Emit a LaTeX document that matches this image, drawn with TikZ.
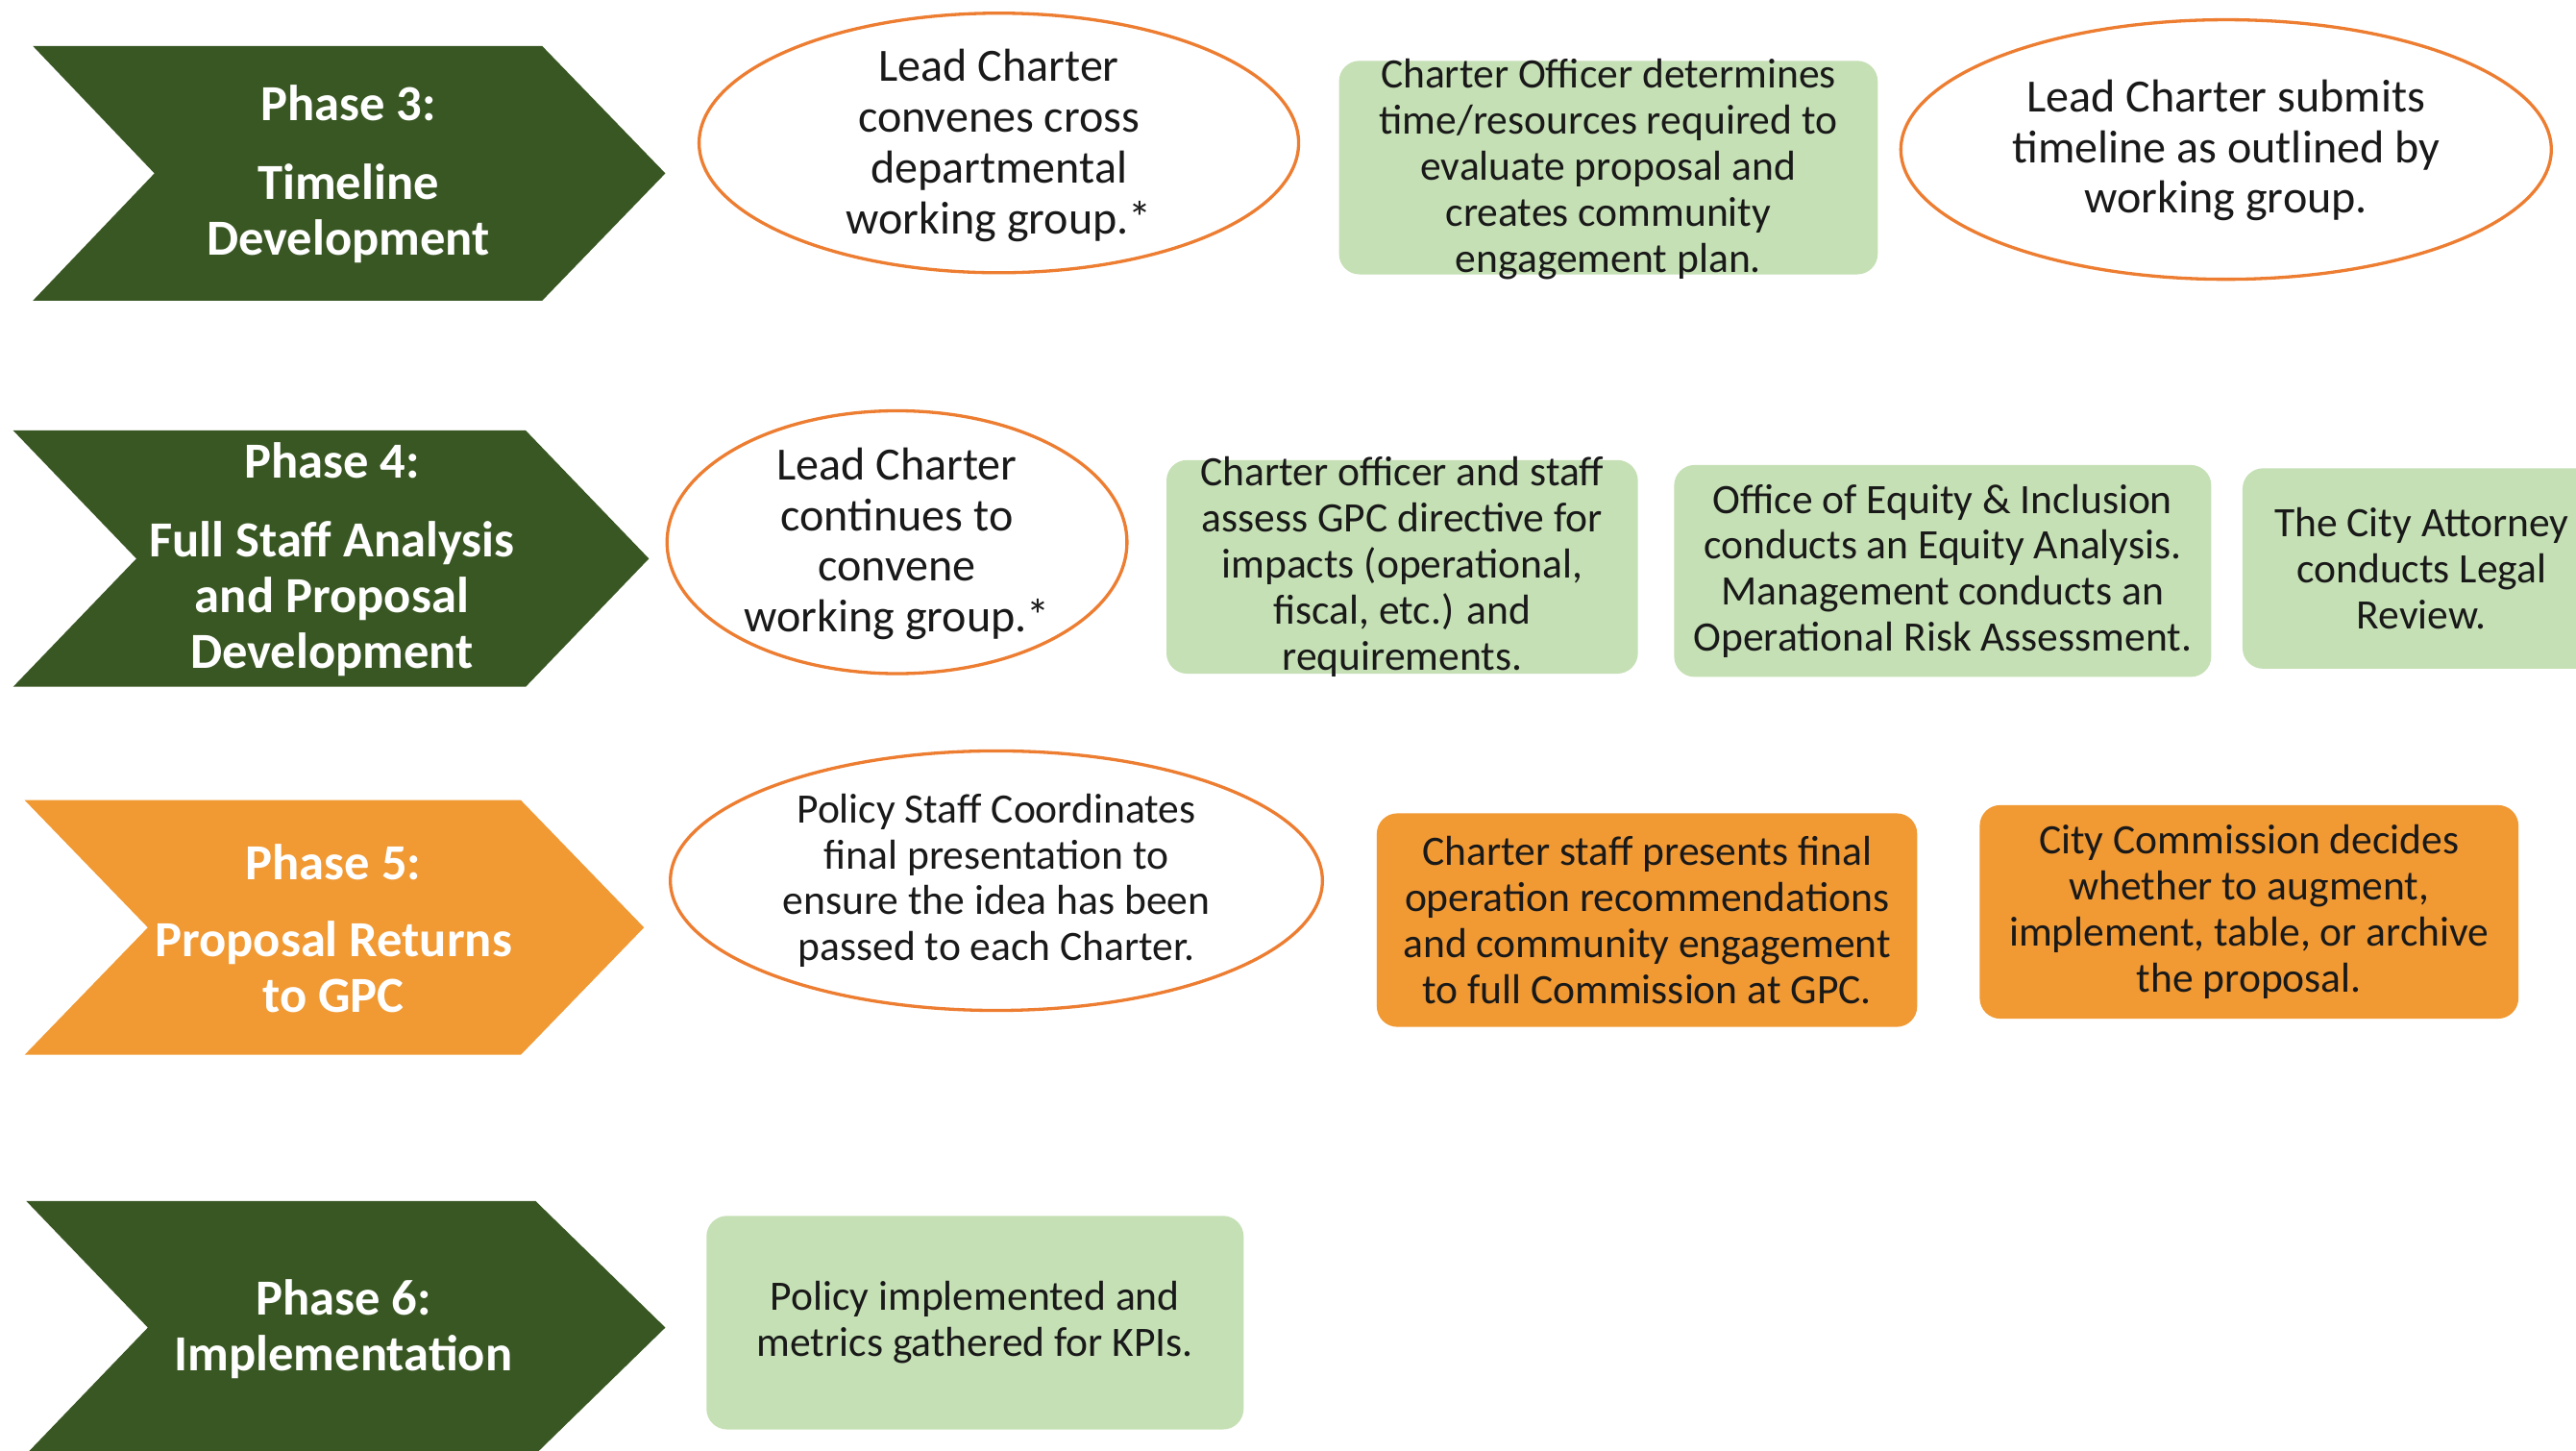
\documentclass[tikz,border=0pt]{standalone}
\usepackage{fontspec}
\setmainfont{Carlito}
\usetikzlibrary{shapes.geometric}
\definecolor{phasegreen}{RGB}{57,87,35}
\definecolor{boxgreen}{RGB}{197,224,180}
\definecolor{phaseorange}{RGB}{241,153,51}
\definecolor{ringorange}{RGB}{237,125,49}
\begin{document}
\begin{tikzpicture}[x=0.02cm,y=-0.02cm,
		phasetext/.style={text=white,font=\fontsize{17.5}{19.3}\selectfont\bfseries,align=center},
		ringoval/.style={draw=ringorange,line width=1.1pt,fill=white,ellipse,inner sep=0pt,minimum width=7.92cm,minimum height=3.16cm},
		ovaltext/.style={font=\fontsize{16}{17.6}\selectfont,align=center,text=black!90},
		greenbox/.style={fill=boxgreen,rounded corners=0.25cm,inner sep=0pt,minimum width=6.56cm,minimum height=2.6cm},
		orangebox/.style={greenbox,fill=phaseorange},
		boxtext/.style={font=\fontsize{14.5}{15.9}\selectfont,align=center,text=black!90}]
		\useasboundingbox (0,0) rectangle (1568,883);
		\clip (0,0) rectangle (1568,883);
		\fill[white] (0,0) rectangle (1568,883);
		\fill[phasegreen] (20,28) -- (330,28) -- (405,105.5) -- (330,183) -- (20,183) -- (94,105.5) -- cycle;
		\fill[phasegreen] (8,262) -- (320,262) -- (395,340) -- (320,418) -- (8,418) -- (83,340) -- cycle;
		\fill[phaseorange] (15,487) -- (317,487) -- (392,564.5) -- (317,642) -- (15,642) -- (90,564.5) -- cycle;
		\fill[phasegreen] (16,731) -- (326,731) -- (405,808) -- (326,885) -- (16,885) -- (90,808) -- cycle;
		\node[phasetext] (p3) at (212,106) {Phase 3:\\[0.28cm]Timeline\\Development};
		\node[phasetext] (p4) at (202,340.5) {Phase 4:\\[0.28cm]Full Staff Analysis\\and Proposal\\Development};
		\node[phasetext] (p5) at (203,565) {Phase 5:\\[0.26cm]Proposal Returns\\to GPC};
		\node[phasetext] (p6) at (209,809) {Phase 6:\\Implementation};
		\node[ringoval,minimum width=7.3cm] (e1) at (608,87) {};
		\node[ovaltext] (e1t) at (608,88.5) {Lead Charter\\convenes cross\\departmental\\working group.*};
		\node[greenbox] (g1) at (979,102) {};
		\node[boxtext] (g1t) at (979,103) {Charter Officer determines\\time/resources required to\\evaluate proposal and\\creates community\\engagement plan.};
		\node[ringoval] (e2) at (1355,91) {};
		\node[ovaltext] (e2t) at (1355,91.5) {Lead Charter submits\\timeline as outlined by\\working group.};
		\node[ringoval,minimum width=5.6cm,minimum height=3.2cm] (e3) at (546,330) {};
		\node[ovaltext] (e3t) at (546,331) {Lead Charter\\continues to\\convene\\working group.*};
		\node[greenbox,minimum width=5.74cm] (g2) at (853.5,345) {};
		\node[boxtext] (g2t) at (g2) {Charter officer and staff\\assess GPC directive for\\impacts (operational,\\fiscal, etc.) and\\requirements.};
		\node[greenbox,minimum width=6.54cm,minimum height=2.58cm] (g3) at (1182.5,347.5) {};
		\node[boxtext] (g3t) at (g3) {Office of Equity \& Inclusion\\conducts an Equity Analysis.\\Management conducts an\\Operational Risk Assessment.};
		\node[greenbox,minimum width=4.36cm,minimum height=2.44cm] (g4) at (1474,346) {};
		\node[boxtext] (g4t) at (g4) {The City Attorney\\conducts Legal\\Review.};
		\node[ringoval,minimum width=7.94cm] (e4) at (606.5,536) {};
		\node[boxtext] (e4t) at (e4) {Policy Staff Coordinates\\final presentation to\\ensure the idea has been\\passed to each Charter.};
		\node[orangebox,minimum width=6.58cm] (o1) at (1002.5,560) {};
		\node[boxtext] (o1t) at (o1) {Charter staff presents final\\operation recommendations\\and community engagement\\to full Commission at GPC.};
		\node[orangebox] (o2) at (1369,555) {};
		\node[boxtext] (o2t) at (o2) {City Commission decides\\whether to augment,\\implement, table, or archive\\the proposal.};
		\node[greenbox,minimum width=6.54cm] (g5) at (593.5,805) {};
		\node[boxtext] (g5t) at (g5) {Policy implemented and\\metrics gathered for KPIs.};
	\end{tikzpicture}
\end{document}
